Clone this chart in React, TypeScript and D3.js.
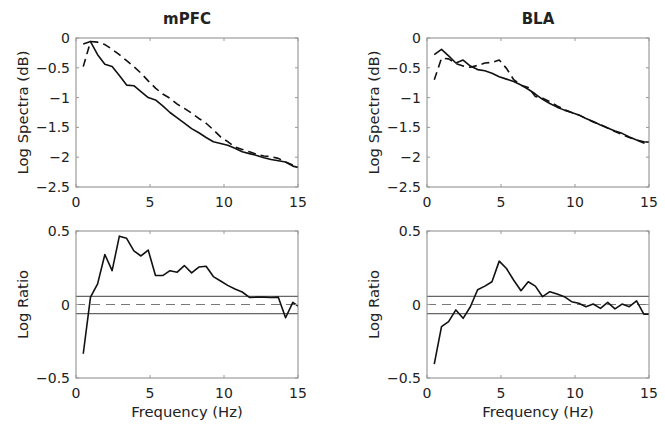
import React from "react";
import * as d3 from "d3";

const freqs = [0.49, 0.98, 1.46, 1.95, 2.44, 2.93, 3.42, 3.91, 4.39, 4.88, 5.37, 5.86, 6.35, 6.84, 7.32, 7.81, 8.30, 8.79, 9.28, 9.77, 10.25, 10.74, 11.23, 11.72, 12.21, 12.70, 13.18, 13.67, 14.16, 14.65, 15.14];

const mpfcSolid = [-0.10, -0.06, -0.28, -0.44, -0.48, -0.63, -0.79, -0.80, -0.90, -1.00, -1.04, -1.14, -1.25, -1.34, -1.43, -1.52, -1.59, -1.67, -1.74, -1.77, -1.80, -1.85, -1.91, -1.94, -1.97, -2.01, -2.04, -2.06, -2.08, -2.15, -2.18];
const mpfcDashed = [-0.48, -0.06, -0.07, -0.11, -0.19, -0.28, -0.38, -0.48, -0.59, -0.72, -0.84, -0.94, -1.01, -1.11, -1.18, -1.26, -1.35, -1.43, -1.54, -1.66, -1.74, -1.83, -1.87, -1.91, -1.95, -1.98, -1.99, -2.02, -2.08, -2.13, -2.16];
const blaSolid = [-0.28, -0.19, -0.30, -0.42, -0.37, -0.47, -0.53, -0.55, -0.59, -0.65, -0.69, -0.73, -0.79, -0.86, -0.94, -1.03, -1.10, -1.16, -1.21, -1.25, -1.29, -1.35, -1.40, -1.46, -1.51, -1.56, -1.60, -1.66, -1.71, -1.74, -1.75];
const blaDashed = [-0.70, -0.34, -0.35, -0.43, -0.47, -0.49, -0.46, -0.42, -0.41, -0.37, -0.51, -0.70, -0.79, -0.83, -0.98, -1.01, -1.07, -1.14, -1.20, -1.25, -1.29, -1.35, -1.41, -1.45, -1.51, -1.57, -1.62, -1.67, -1.71, -1.76, -1.81];
const mpfcRatio = [-0.335, 0.05, 0.14, 0.34, 0.23, 0.465, 0.45, 0.365, 0.33, 0.37, 0.197, 0.197, 0.23, 0.22, 0.265, 0.215, 0.255, 0.26, 0.19, 0.16, 0.13, 0.105, 0.085, 0.048, 0.05, 0.05, 0.048, 0.05, -0.09, 0.015, -0.02];
const blaRatio = [-0.405, -0.15, -0.116, -0.037, -0.094, -0.015, 0.10, 0.125, 0.155, 0.295, 0.245, 0.165, 0.094, 0.155, 0.125, 0.053, 0.087, 0.071, 0.053, 0.019, 0.008, -0.015, 0.003, -0.026, 0.015, -0.03, 0.003, -0.015, 0.025, -0.066, -0.066];

const xTicks = [0, 5, 10, 15];
const xTickLabels = ["0", "5", "10", "15"];
const spectraTicks = [0, -0.5, -1, -1.5, -2, -2.5];
const spectraTickLabels = ["0", "\u22120.5", "\u22121", "\u22121.5", "\u22122", "\u22122.5"];
const ratioTicks = [0.5, 0, -0.5];
const ratioTickLabels = ["0.5", "0", "\u22120.5"];
const thresholdLines = [0.055, -0.062];
const titles = ["mPFC", "BLA"];

const FONT = "DejaVu Sans, Verdana, sans-serif";
const TEXT = "#222";

type Series = { values: number[]; dashed: boolean };

type PanelProps = {
  id: string;
  left: number;
  top: number;
  width: number;
  height: number;
  yDomain: [number, number];
  yTicks: number[];
  yTickLabels: string[];
  series: Series[];
  hlines?: number[];
  title?: string;
  ylabel: string;
  xlabel?: string;
};

function Panel(p: PanelProps) {
  const x = d3.scaleLinear().domain([0, 15]).range([p.left, p.left + p.width]);
  const y = d3.scaleLinear().domain(p.yDomain).range([p.top + p.height, p.top]);
  const line = d3
    .line<number>()
    .x((_, i) => x(freqs[i]))
    .y((v) => y(v));
  const tl = 3;
  const bottom = p.top + p.height;
  const right = p.left + p.width;
  return (
    <g>
      <defs>
        <clipPath id={p.id}>
          <rect x={p.left} y={p.top} width={p.width} height={p.height} />
        </clipPath>
      </defs>
      {p.hlines && (
        <g clipPath={`url(#${p.id})`}>
          {p.hlines.map((h, i) => (
            <line key={i} x1={p.left} x2={right} y1={y(h)} y2={y(h)} stroke="#666" strokeWidth={1.3} />
          ))}
          <line x1={p.left} x2={right} y1={y(0)} y2={y(0)} stroke="#777" strokeWidth={1.2} strokeDasharray="9,6" />
        </g>
      )}
      <g clipPath={`url(#${p.id})`}>
        {p.series.map((s, i) => (
          <path
            key={i}
            d={line(s.values) || ""}
            fill="none"
            stroke="#111"
            strokeWidth={1.6}
            strokeDasharray={s.dashed ? "8,5" : undefined}
            strokeLinejoin="round"
          />
        ))}
      </g>
      <rect x={p.left} y={p.top} width={p.width} height={p.height} fill="none" stroke="#888" strokeWidth={1} />
      {xTicks.map((t, i) => (
        <g key={"x" + i}>
          <line x1={x(t)} x2={x(t)} y1={bottom} y2={bottom - tl} stroke="#999" />
          <line x1={x(t)} x2={x(t)} y1={p.top} y2={p.top + tl} stroke="#999" />
          <text x={x(t)} y={bottom + 20} textAnchor="middle" fontSize={14} fontFamily={FONT} fill={TEXT}>
            {xTickLabels[i]}
          </text>
        </g>
      ))}
      {p.yTicks.map((t, i) => (
        <g key={"y" + i}>
          <line x1={p.left} x2={p.left + tl} y1={y(t)} y2={y(t)} stroke="#999" />
          <line x1={right} x2={right - tl} y1={y(t)} y2={y(t)} stroke="#999" />
          <text x={p.left - 6} y={y(t)} dy="0.36em" textAnchor="end" fontSize={14} fontFamily={FONT} fill={TEXT}>
            {p.yTickLabels[i]}
          </text>
        </g>
      ))}
      {p.title && (
        <text x={p.left + p.width / 2} y={p.top - 14} textAnchor="middle" fontSize={15} fontWeight="bold" fontFamily={FONT} fill={TEXT}>
          {p.title}
        </text>
      )}
      <text
        transform={`translate(${p.left - 48},${p.top + p.height / 2}) rotate(-90)`}
        textAnchor="middle"
        fontSize={14.8}
        fontFamily={FONT}
        fill={TEXT}
      >
        {p.ylabel}
      </text>
      {p.xlabel && (
        <text x={p.left + p.width / 2} y={bottom + 39} textAnchor="middle" fontSize={14.8} fontFamily={FONT} fill={TEXT}>
          {p.xlabel}
        </text>
      )}
    </g>
  );
}

export default function App() {
  const lefts = [76, 427];
  const w = 222;
  return (
    <svg width={665} height={424} style={{ position: "absolute", left: 0, top: 0, background: "#fff" }}>
      <rect width={665} height={424} fill="#fff" />
      <Panel
        id="c0"
        left={lefts[0]}
        top={38}
        width={w}
        height={149}
        yDomain={[-2.5, 0]}
        yTicks={spectraTicks}
        yTickLabels={spectraTickLabels}
        series={[
          { values: mpfcSolid, dashed: false },
          { values: mpfcDashed, dashed: true },
        ]}
        title={titles[0]}
        ylabel="Log Spectra (dB)"
      />
      <Panel
        id="c1"
        left={lefts[1]}
        top={38}
        width={w}
        height={149}
        yDomain={[-2.5, 0]}
        yTicks={spectraTicks}
        yTickLabels={spectraTickLabels}
        series={[
          { values: blaSolid, dashed: false },
          { values: blaDashed, dashed: true },
        ]}
        title={titles[1]}
        ylabel="Log Spectra (dB)"
      />
      <Panel
        id="c2"
        left={lefts[0]}
        top={231}
        width={w}
        height={147}
        yDomain={[-0.5, 0.5]}
        yTicks={ratioTicks}
        yTickLabels={ratioTickLabels}
        series={[{ values: mpfcRatio, dashed: false }]}
        hlines={thresholdLines}
        ylabel="Log Ratio"
        xlabel="Frequency (Hz)"
      />
      <Panel
        id="c3"
        left={lefts[1]}
        top={231}
        width={w}
        height={147}
        yDomain={[-0.5, 0.5]}
        yTicks={ratioTicks}
        yTickLabels={ratioTickLabels}
        series={[{ values: blaRatio, dashed: false }]}
        hlines={thresholdLines}
        ylabel="Log Ratio"
        xlabel="Frequency (Hz)"
      />
    </svg>
  );
}
